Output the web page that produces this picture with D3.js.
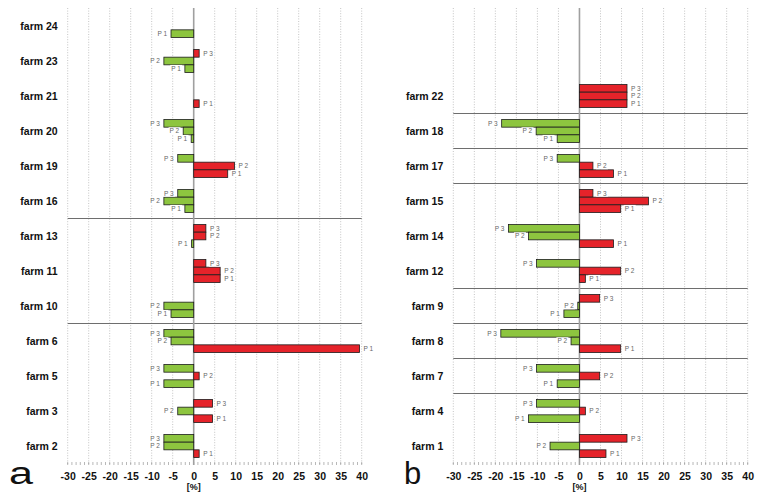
<!DOCTYPE html>
<html><head><meta charset="utf-8">
<script src="https://cdn.jsdelivr.net/npm/d3@7"></script>
<style>body{margin:0;background:#fff}svg{display:block}text{font-family:"Liberation Sans",Arial,sans-serif}</style>
</head><body><svg id="c" width="771" height="501"></svg>
<script>
// ---- data ----
const periods = ["P3", "P2", "P1"];
const tickValues = [-30, -25, -20, -15, -10, -5, 0, 5, 10, 15, 20, 25, 30, 35, 40];
const axisTitle = "[%]";

const leftFarms = ["farm 24","farm 23","farm 21","farm 20","farm 19","farm 16","farm 13","farm 11","farm 10","farm 6","farm 5","farm 3","farm 2"];
const leftP1 = [-5.4, -2.1, 1.3, -0.6, 8.1, -2.1, -0.5, 6.3, -5.4, 39.5, -7.1, 4.5, 1.3];
const leftP2 = [null, -7.1, null, -2.5, 9.7, -7.1, 2.9, 6.3, -7.1, -5.4, 1.3, -3.8, -7.1];
const leftP3 = [null, 1.3, null, -7.1, -3.8, -3.8, 2.9, 2.9, null, -7.1, -7.1, 4.5, -7.1];
const leftGroupEnds = ["farm 16", "farm 10"];

const rightFarms = ["farm 22","farm 18","farm 17","farm 15","farm 14","farm 12","farm 9","farm 8","farm 7","farm 4","farm 1"];
const rightP1 = [11.3, -5.3, 8.1, 9.8, 8.1, 1.4, -3.7, 9.8, -5.3, -12.1, 6.3];
const rightP2 = [11.3, -10.3, 3.2, 16.4, -12.1, 9.8, -0.4, -2.0, 4.8, 1.4, -7.0];
const rightP3 = [11.3, -18.5, -5.3, 3.2, -16.9, -10.2, 4.8, -18.7, -10.2, -10.2, 11.3];
const rightGroupEnds = ["farm 22", "farm 18", "farm 17", "farm 12", "farm 9", "farm 8", "farm 7"];

// ---- drawing ----
const svg = d3.select("#c");
const RED = "#e5232a", GREEN = "#8dc53f";
const TOP = 8, BOTTOM = 465, NSLOTS = 13;

const y = d3.scaleBand().domain(d3.range(NSLOTS)).range([8.5, 463.5]);
const sub = d3.scaleBand().domain(periods).range([-11.5, 11.5]);

function panel(cfg) {
  const x = d3.scaleLinear().domain([-30, 40]).range([cfg.x0, cfg.x1]);
  const g = svg.append("g");
  const offset = NSLOTS - cfg.farms.length;
  const slot = i => i + offset;

  // gridlines
  g.selectAll(".grid").data(tickValues.filter(v => v !== 0)).join("line")
    .attr("x1", d => x(d)).attr("x2", d => x(d))
    .attr("y1", TOP).attr("y2", BOTTOM)
    .attr("stroke", "#b5b5b5").attr("stroke-width", 0.8).attr("stroke-dasharray", "1,1.6");

  // minor ticks
  g.selectAll(".minor").data(d3.range(-30, 41)).join("line")
    .attr("x1", d => x(d)).attr("x2", d => x(d))
    .attr("y1", BOTTOM - 3).attr("y2", BOTTOM)
    .attr("stroke", "#9a9a9a").attr("stroke-width", 0.7);

  // group separators
  g.selectAll(".sep").data(cfg.groupEnds).join("line")
    .attr("x1", x(-30)).attr("x2", x(40))
    .attr("y1", d => y(slot(cfg.farms.indexOf(d))) + y.bandwidth())
    .attr("y2", d => y(slot(cfg.farms.indexOf(d))) + y.bandwidth())
    .attr("stroke", "#6e6e6e").attr("stroke-width", 1.2);

  // zero line
  g.append("line").attr("x1", x(0)).attr("x2", x(0)).attr("y1", TOP).attr("y2", BOTTOM)
    .attr("stroke", "#a0a0a0").attr("stroke-width", 1.6);

  // bars
  const bars = [];
  cfg.farms.forEach((f, i) => {
    [["P3", cfg.P3], ["P2", cfg.P2], ["P1", cfg.P1]].forEach(([p, arr]) => {
      const v = arr[i];
      if (v !== null && v !== undefined) bars.push({f, i, p, v});
    });
  });
  const by = d => y(slot(d.i)) + y.bandwidth() / 2 + sub(d.p);
  g.selectAll(".bar").data(bars).join("rect")
    .attr("x", d => x(Math.min(0, d.v)))
    .attr("width", d => Math.abs(x(d.v) - x(0)))
    .attr("y", d => by(d))
    .attr("height", sub.bandwidth())
    .attr("fill", d => d.v >= 0 ? RED : GREEN)
    .attr("stroke", "#1c1c1c").attr("stroke-width", 0.8);

  // small period labels
  const lg = g.append("g");
  bars.forEach(d => {
    const pos = d.v >= 0;
    const t = lg.append("text")
      .attr("x", pos ? x(d.v) + 4 : x(d.v) - 4)
      .attr("y", by(d) + sub.bandwidth() / 2)
      .attr("dy", "0.35em")
      .attr("text-anchor", pos ? "start" : "end")
      .attr("font-size", 6.5).attr("fill", "#666")
      .text(d.p.replace("P", "P "));
    const bb = t.node().getBBox();
    lg.insert("rect", () => t.node())
      .attr("x", bb.x - 1).attr("y", bb.y).attr("width", bb.width + 2).attr("height", bb.height)
      .attr("fill", "#fff");
  });

  // farm labels
  g.selectAll(".farm").data(cfg.farms).join("text")
    .attr("x", cfg.x0 - 10)
    .attr("y", (d, i) => y(slot(i)) + y.bandwidth() / 2)
    .attr("dy", "0.35em").attr("text-anchor", "end")
    .attr("font-size", 10.5).attr("font-weight", "bold").attr("fill", "#111")
    .text(d => d);

  // tick labels
  const ax = g.append("g").attr("transform", `translate(0,${BOTTOM})`)
    .call(d3.axisBottom(x).tickValues(tickValues).tickSize(0).tickFormat(d => String(d)));
  ax.select(".domain").remove();
  ax.selectAll("text").attr("font-size", 10.5).attr("font-weight", "bold").attr("fill", "#111")
    .attr("font-family", "Liberation Sans, Arial, sans-serif").attr("dy", 0).attr("y", 14.5);

  g.append("text").attr("x", x(0)).attr("y", 489.5).attr("text-anchor", "middle")
    .attr("font-size", 9).attr("font-weight", "bold").attr("fill", "#111").text(axisTitle);

  const L = g.append("text").attr("x", cfg.letterX).attr("y", 483.5)
    .attr("font-size", 31).attr("fill", "#111").text(cfg.letter);
  if (cfg.letterWidth) L.attr("textLength", cfg.letterWidth).attr("lengthAdjust", "spacingAndGlyphs");
}

panel({farms: leftFarms, P1: leftP1, P2: leftP2, P3: leftP3, groupEnds: leftGroupEnds,
       x0: 67.7, x1: 361.7, letter: "a", letterX: 9, letterWidth: 24});
panel({farms: rightFarms, P1: rightP1, P2: rightP2, P3: rightP3, groupEnds: rightGroupEnds,
       x0: 453.3, x1: 747.7, letter: "b", letterX: 404});
</script></body></html>
